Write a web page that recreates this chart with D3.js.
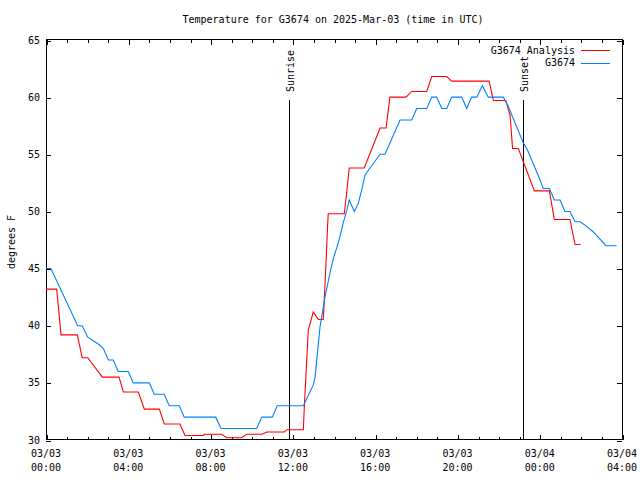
<!DOCTYPE html>
<html>
<head>
<meta charset="utf-8">
<script src="https://cdn.jsdelivr.net/npm/d3@7"></script>
<style>
  html, body { margin: 0; padding: 0; background: #fff; }
  svg { display: block; }
  text { font-family: "DejaVu Sans Mono", "Liberation Mono", monospace; font-size: 10px; fill: #000; }
</style>
</head>
<body>
<svg id="chart" width="640" height="480"></svg>
<script>
// ---- Data (hours since 2025-03-03 00:00 UTC, temperature in °F) ----
const analysisHours = [0, 0.52, 0.73, 1.52, 1.76, 2.03, 2.74, 3.55, 3.76, 4.49, 4.78, 5.51, 5.75, 6.51, 6.76, 7.65, 7.70, 8.54, 8.78, 9.51, 9.76, 10.51, 10.73, 11.58, 11.70, 12.51, 12.56, 12.75, 12.99, 13.24, 13.48, 13.60, 13.69, 13.72, 14.50, 14.62, 14.74, 15.47, 16.24, 16.53, 16.72, 17.50, 17.78, 18.51, 18.75, 19.48, 19.72, 21.54, 21.75, 22.35, 22.56, 22.68, 22.96, 23.74, 24.47, 24.71, 25.47, 25.72, 25.99];
const analysisTemps = [43.2, 43.2, 39.2, 39.2, 37.2, 37.2, 35.5, 35.5, 34.2, 34.2, 32.7, 32.7, 31.4, 31.4, 30.4, 30.4, 30.5, 30.5, 30.2, 30.2, 30.5, 30.5, 30.7, 30.7, 30.9, 30.9, 33.0, 39.6, 41.2, 40.55, 40.55, 45.0, 48.8, 49.8, 49.8, 51.7, 53.8, 53.8, 57.3, 57.3, 60.0, 60.0, 60.5, 60.5, 61.8, 61.8, 61.4, 61.4, 59.7, 59.7, 58.4, 55.5, 55.5, 51.8, 51.8, 49.3, 49.3, 47.1, 47.1];

const obsHours = [0, 0.24, 1.54, 1.76, 2.03, 2.54, 2.79, 3.03, 3.27, 3.51, 4.00, 4.24, 5.02, 5.26, 5.75, 5.99, 6.48, 6.72, 8.25, 8.51, 10.24, 10.49, 11.00, 11.24, 12.51, 12.99, 13.08, 13.32, 13.56, 13.85, 13.97, 14.13, 14.29, 14.45, 14.62, 14.74, 14.99, 15.18, 15.35, 15.51, 15.75, 16.24, 16.48, 17.21, 17.78, 18.02, 18.51, 18.75, 18.99, 19.24, 19.48, 19.72, 20.21, 20.45, 20.69, 20.94, 21.21, 21.50, 22.23, 22.47, 23.20, 23.40, 24.01, 24.17, 24.47, 24.71, 24.99, 25.23, 25.47, 25.72, 25.96, 26.20, 26.61, 27.22, 27.74];
const obsTemps = [45, 45, 40, 40, 39, 38.4, 38, 37, 37, 36, 36, 35, 35, 34, 34, 33, 33, 32, 32, 31, 31, 32, 32, 33, 33, 34.8, 35.5, 39.9, 42.5, 45, 45.9, 46.8, 47.8, 49, 50.1, 51, 50, 50.7, 51.9, 53.2, 53.8, 55, 55, 58, 58, 59, 59, 60, 60, 59, 59, 60, 60, 59, 60, 60, 61, 60, 60, 59.2, 56, 55.4, 52.8, 52, 52, 51, 51, 50, 50, 49.1, 49.1, 48.8, 48.2, 47, 47];

const seriesNames = ["G3674 Analysis", "G3674"];
const seriesColors = ["#ff0000", "#0080ff"];

const xTickHours = [0, 4, 8, 12, 16, 20, 24, 28];
const xTickDates = ["03/03", "03/03", "03/03", "03/03", "03/03", "03/03", "03/04", "03/04"];
const xTickTimes = ["00:00", "04:00", "08:00", "12:00", "16:00", "20:00", "00:00", "04:00"];
const yTicks = [30, 35, 40, 45, 50, 55, 60, 65];

const sunEvents = ["Sunrise", "Sunset"];
const sunHours = [11.83, 23.20];

const titleText = "Temperature for G3674 on 2025-Mar-03 (time in UTC)";
const yLabelText = "degrees F";

// ---- Layout ----
const svg = d3.select("#chart");
const L = 46, R = 622, T = 40, B = 440;
const x = d3.scaleLinear().domain([0, 28]).range([L, R]);
const y = d3.scaleLinear().domain([30, 65]).range([B, T]);

// Frame
svg.append("rect")
  .attr("x", L + 0.5).attr("y", T - 0.5)
  .attr("width", R - L).attr("height", B - T)
  .attr("fill", "none").attr("stroke", "#000").attr("stroke-width", 1)
  .attr("shape-rendering", "crispEdges");

// Axes via d3 (ticks drawn inward)
const minorHours = d3.range(0, 29, 1);
const axG = svg.append("g").attr("shape-rendering", "crispEdges");

axG.append("g").attr("transform", `translate(0.5,${B})`)
  .call(d3.axisTop(x).tickValues(xTickHours).tickSize(5).tickFormat(""))
  .call(g => g.select(".domain").remove());
axG.append("g").attr("transform", `translate(0.5,${B})`)
  .call(d3.axisTop(x).tickValues(minorHours.filter(h => h % 4 !== 0)).tickSize(3).tickFormat(""))
  .call(g => g.select(".domain").remove());
axG.append("g").attr("transform", `translate(0.5,${T})`)
  .call(d3.axisBottom(x).tickValues(xTickHours).tickSize(5).tickFormat(""))
  .call(g => g.select(".domain").remove());
axG.append("g").attr("transform", `translate(0.5,${T})`)
  .call(d3.axisBottom(x).tickValues(minorHours.filter(h => h % 4 !== 0)).tickSize(3).tickFormat(""))
  .call(g => g.select(".domain").remove());
axG.append("g").attr("transform", `translate(${L},0.5)`)
  .call(d3.axisRight(y).tickValues(yTicks).tickSize(5).tickFormat(""))
  .call(g => g.select(".domain").remove());
axG.append("g").attr("transform", `translate(${R},0.5)`)
  .call(d3.axisLeft(y).tickValues(yTicks).tickSize(5).tickFormat(""))
  .call(g => g.select(".domain").remove());

// Y tick labels
svg.append("g").selectAll("text").data(yTicks).join("text")
  .attr("x", L - 6).attr("y", d => y(d))
  .attr("text-anchor", "end").attr("dominant-baseline", "central")
  .text(d => d);

// X tick labels
const xl = svg.append("g").selectAll("g").data(xTickHours).join("g")
  .attr("transform", d => `translate(${x(d)},0)`);
xl.append("text").attr("y", 453).attr("text-anchor", "middle").attr("dominant-baseline", "central")
  .text((d, i) => xTickDates[i]);
xl.append("text").attr("y", 467).attr("text-anchor", "middle").attr("dominant-baseline", "central")
  .text((d, i) => xTickTimes[i]);

// Title and y label
svg.append("text").attr("x", 333).attr("y", 19).attr("text-anchor", "middle")
  .attr("dominant-baseline", "central").text(titleText);
svg.append("text").attr("transform", "translate(11,242) rotate(-90)")
  .attr("text-anchor", "middle").attr("dominant-baseline", "central").text(yLabelText);

// Sunrise / sunset
sunHours.forEach((h, i) => {
  const px = Math.round(x(h)) + 0.5;
  svg.append("line").attr("x1", px).attr("x2", px).attr("y1", 100).attr("y2", B)
    .attr("stroke", "#000").attr("stroke-width", 1).attr("shape-rendering", "crispEdges");
  svg.append("text").attr("transform", `translate(${px + 1},92) rotate(-90)`)
    .attr("text-anchor", "start").attr("dominant-baseline", "central").text(sunEvents[i]);
});

// Lines
const line = d3.line().x(d => x(d[0])).y(d => y(d[1]));
const series = [
  d3.zip(analysisHours, analysisTemps),
  d3.zip(obsHours, obsTemps)
];
series.forEach((s, i) => {
  svg.append("path").datum(s).attr("d", line)
    .attr("fill", "none").attr("stroke", seriesColors[i]).attr("stroke-width", 1.1);
});

// Legend
seriesNames.forEach((name, i) => {
  const ly = 50 + i * 12.5;
  svg.append("text").attr("x", 575).attr("y", ly).attr("text-anchor", "end")
    .attr("dominant-baseline", "central").text(name);
  svg.append("line").attr("x1", 581).attr("x2", 610).attr("y1", Math.round(ly) + 0.5).attr("y2", Math.round(ly) + 0.5)
    .attr("stroke", seriesColors[i]).attr("stroke-width", 1).attr("shape-rendering", "crispEdges");
});
</script>
</body>
</html>
